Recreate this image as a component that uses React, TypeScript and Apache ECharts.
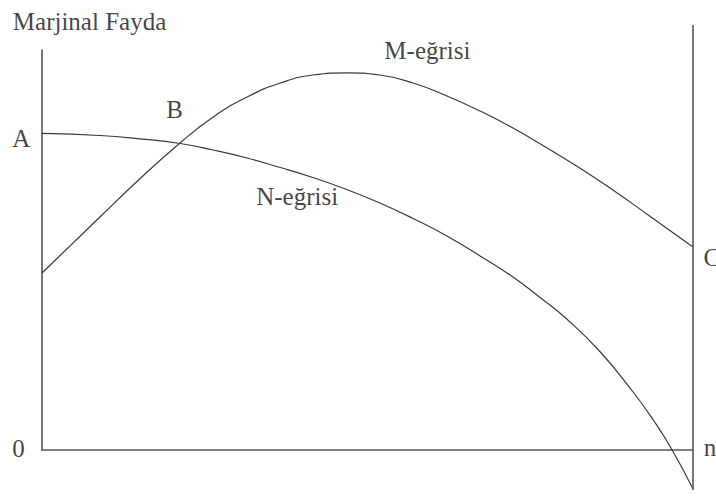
import React, { useEffect, useRef } from "react";
import * as echarts from "echarts";

// Curve N (x, y) in abstract units: x 0..100 horizontal, y 0..100 marginal benefit
const nCurveX = [0, 8.9, 15.0, 21.2, 26.3, 31.5, 36.6, 41.6, 46.8, 51.9, 57.0, 62.2, 67.3, 72.35, 76.5, 80.6, 85.7, 90.8, 93.9, 96.8, 100];
const nCurveY = [79.18, 78.63, 77.8, 76.63, 75, 73, 70.63, 68.13, 65.13, 61.75, 57.88, 53.5, 48.5, 43.25, 38.13, 32.75, 24.63, 14.5, 7.5, 0, -9.75];

// Curve M
const mCurveX = [0, 8.9, 15.0, 21.2, 26.3, 31.5, 36.6, 41.6, 46.8, 51.9, 57.0, 62.2, 67.3, 72.35, 77.6, 82.6, 87.7, 92.9, 100];
const mCurveY = [44.25, 58.25, 67.75, 76.75, 83.25, 88.25, 91.75, 93.75, 94.3, 93.75, 91.75, 88.5, 84.75, 80.5, 75.5, 70.5, 65, 59, 50.75];

// Right boundary line at x = n
const rightLineX = [100, 100];
const rightLineY = [-10, 106.25];

// Text labels
const labelTexts = ["Marjinal Fayda", "A", "B", "N-eğrisi", "M-eğrisi", "C", "0", "n"];
const labelX = [7.3, -3.2, 20.35, 39.2, 59.2, 102.9, -3.6, 102.6];
const labelY = [107.25, 77.9, 85.1, 63.4, 100, 48.1, 0.4, 0.6];

const zip = (xs: number[], ys: number[]) => xs.map((x, i) => [x, ys[i]]);

export default function App() {
  const ref = useRef<HTMLDivElement>(null);
  useEffect(() => {
    if (!ref.current) return;
    const chart = echarts.init(ref.current, null, { renderer: "svg" });
    const lineColor = "#3a3a3a";
    const axisColor = "#555";
    chart.setOption({
      animation: false,
      backgroundColor: "#ffffff",
      grid: { left: 42, right: 23, top: 50, bottom: 51 },
      xAxis: {
        type: "value",
        min: 0,
        max: 100,
        axisLine: { show: true, onZero: false, lineStyle: { color: axisColor, width: 1.6 } },
        axisTick: { show: false },
        axisLabel: { show: false },
        splitLine: { show: false },
      },
      yAxis: {
        type: "value",
        min: 0,
        max: 100,
        axisLine: { show: true, onZero: false, lineStyle: { color: axisColor, width: 1.6 } },
        axisTick: { show: false },
        axisLabel: { show: false },
        splitLine: { show: false },
      },
      series: [
        {
          type: "line",
          data: zip(nCurveX, nCurveY),
          smooth: 0.5,
          showSymbol: false,
          clip: false,
          lineStyle: { color: lineColor, width: 1.2 },
        },
        {
          type: "line",
          data: zip(mCurveX, mCurveY),
          smooth: 0.5,
          showSymbol: false,
          clip: false,
          lineStyle: { color: lineColor, width: 1.2 },
        },
        {
          type: "line",
          data: zip(rightLineX, rightLineY),
          showSymbol: false,
          clip: false,
          lineStyle: { color: axisColor, width: 1.6 },
        },
        {
          type: "scatter",
          clip: false,
          symbolSize: 0,
          data: labelTexts.map((t, i) => ({ value: [labelX[i], labelY[i]], name: t })),
          label: {
            show: true,
            position: "inside",
            formatter: (p: any) => p.name,
            color: "#111",
            fontFamily: "Liberation Serif",
            fontSize: 25,
          },
          silent: true,
        },
      ],
    });
    return () => chart.dispose();
  }, []);
  return (
    <div
      ref={ref}
      style={{ position: "absolute", left: 0, top: 0, width: 716, height: 501 }}
    />
  );
}
